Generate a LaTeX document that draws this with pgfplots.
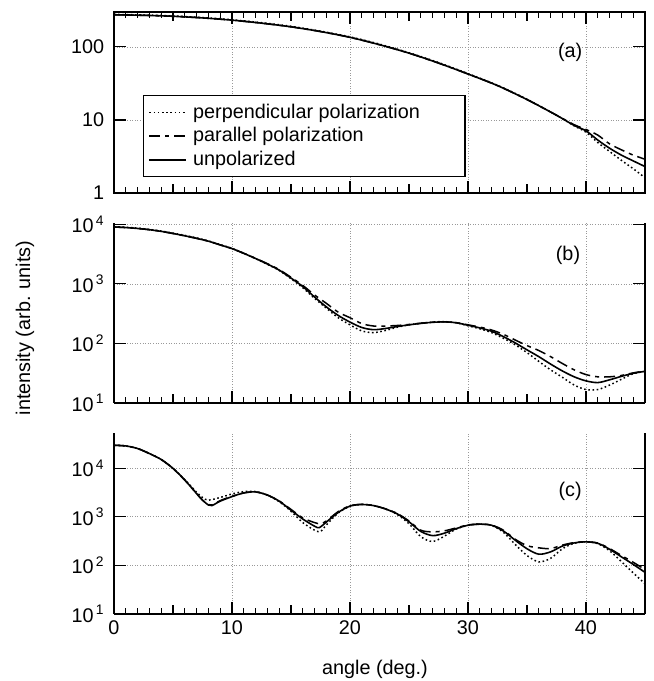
\documentclass[border=0pt]{standalone}
\usepackage{fontspec}
\setmainfont{Liberation Sans}
\usepackage{pgfplots}
\pgfplotsset{compat=1.18}
\tikzset{
  perpsty/.style={black, line width=1.5pt, dash pattern=on 1.6pt off 2.6pt},
  parasty/.style={black, line width=1.5pt, dash pattern=on 11pt off 5pt on 4pt off 5pt},
  unpolsty/.style={black, line width=1.6pt},
}
\pgfplotsset{
  mypanel/.style={
    scale only axis, width=531pt, xmin=0, xmax=45,
    xtick={0,10,20,30,40}, xticklabels={},
    minor xtick={0,1,...,45},
    extra x ticks={5,15,25,35,45}, extra x tick labels={},
    extra x tick style={major tick length=9pt, grid=none},
    yminorticks=false,
    grid=major, grid style={dash pattern=on 0.8pt off 1.8pt, black!40, line width=0.6pt},
    axis line style={line width=1.5pt},
    every tick/.style={black, line width=1.2pt},
    major tick length=12pt, minor tick length=6pt,
    tick align=inside,
    yticklabel style={xshift=-3pt},
  },
}
\begin{document}
\fontsize{19.8}{23}\selectfont
\begin{tikzpicture}[x=1pt,y=1pt]
\useasboundingbox (0,0) rectangle (654,681);

% ---------------- panel (a)
\begin{semilogyaxis}[mypanel, at={(114pt,488pt)}, anchor=south west, height=181pt,
  ymin=1, ymax=300, ytick={1,10,100}, yticklabels={1,10,100},
  legend style={at={(rel axis cs:0.0546,0.541)}, anchor=north west,
    draw=black, line width=1.2pt, fill=white, inner xsep=5pt, inner ysep=6pt,
    row sep=2.5pt},
  legend cell align=left,
  legend image code/.code={\draw[#1] (0pt,0pt) -- (37pt,0pt); \path (41pt,0pt);},
]
\addplot[perpsty, smooth] coordinates {(0,278) (2.5,273) (5,265) (7.5,252) (10,235) (12.5,214) (15,191) (17.5,164) (20,137) (22.5,109) (25,83) (27.5,61) (30,43) (32.5,29.8) (35,19.2) (37.5,11.6) (39,8.3) (40,6.8) (41,4.9) (42,3.7) (43,2.8) (44,2.15) (45,1.62)};
\addlegendentry{perpendicular polarization\hspace*{38pt}\mbox{}}
\addplot[parasty, smooth] coordinates {(0,275) (2.5,270) (5,262) (7.5,249) (10,232) (12.5,211) (15,188) (17.5,162) (20,135) (22.5,107) (25,82) (27.5,60) (30,42.5) (32.5,29.5) (35,19) (37.5,11.6) (39,8.6) (40,7.4) (41,6.2) (42,4.7) (43,3.9) (44,3.3) (45,2.9)};
\addlegendentry{parallel polarization}
\addplot[unpolsty, smooth] coordinates {(0,275) (2.5,270) (5,262) (7.5,249) (10,232) (12.5,211) (15,188) (17.5,162) (20,135) (22.5,107) (25,82) (27.5,60) (30,42.5) (32.5,29.5) (35,19) (37.5,11.6) (39,8.4) (40,7.1) (41,5.3) (42,4.1) (43,3.3) (44,2.75) (45,2.3)};
\addlegendentry{unpolarized}
\node at (rel axis cs:0.859,0.779) {(a)};
\end{semilogyaxis}

% ---------------- panel (b)
\begin{semilogyaxis}[mypanel, at={(114pt,278pt)}, anchor=south west, height=180pt,
  axis x line*=bottom, axis y line*=box,
  ymin=10, ymax=10500, ytick={10,100,1000,10000},
  yticklabels={{10\textsuperscript{\,1}},{10\textsuperscript{\,2}},{10\textsuperscript{\,3}},{10\textsuperscript{\,4}}},
]
\addplot[perpsty, smooth] coordinates {(0,9100) (1,8900) (2,8600) (3,8200) (4,7700) (5,7100) (6,6500) (7,5900) (8,5250) (9,4550) (10,3950) (11,3250) (12,2650) (13,2130) (14,1680) (15,1220) (16,860) (17,570) (18,390) (19,270) (20,205) (21,162) (22,152) (23,165) (24,187) (25,205) (26,218) (27,228) (28,232) (29,222) (30,198) (31,176) (32,152) (33,122) (34,95) (35,70) (36,50) (37,36) (38,27) (39,20) (40,16.8) (41,16.8) (42,20) (43,25) (44,31) (45,34)};
\addplot[parasty, smooth] coordinates {(0,9000) (1,8800) (2,8500) (3,8100) (4,7600) (5,7000) (6,6400) (7,5800) (8,5200) (9,4500) (10,3900) (11,3250) (12,2680) (13,2180) (14,1730) (15,1290) (16,940) (17,650) (18,470) (19,335) (20,270) (21,215) (22,196) (23,196) (24,200) (25,208) (26,218) (27,227) (28,230) (29,223) (30,205) (31,188) (32,168) (33,142) (34,114) (35,92) (36,76) (37,60) (38,46) (39,36) (40,30) (41,27.5) (42,27.5) (43,29) (44,32) (45,34.5)};
\addplot[unpolsty, smooth] coordinates {(0,9000) (1,8800) (2,8500) (3,8100) (4,7600) (5,7000) (6,6400) (7,5800) (8,5200) (9,4500) (10,3900) (11,3250) (12,2660) (13,2150) (14,1700) (15,1250) (16,900) (17,600) (18,410) (19,295) (20,228) (21,185) (22,170) (23,178) (24,192) (25,205) (26,217) (27,226) (28,230) (29,222) (30,202) (31,182) (32,160) (33,130) (34,102) (35,78) (36,60) (37,45) (38,34.5) (39,27.5) (40,23.5) (41,22) (42,24.5) (43,28) (44,31.5) (45,34)};
\node at (rel axis cs:0.855,0.822) {(b)};
\end{semilogyaxis}

% ---------------- panel (c)
\begin{semilogyaxis}[mypanel, at={(114pt,67pt)}, anchor=south west, height=181pt,
  axis x line*=bottom, axis y line*=box,
  ymin=10, ymax=53000, ytick={10,100,1000,10000},
  yticklabels={{10\textsuperscript{\,1}},{10\textsuperscript{\,2}},{10\textsuperscript{\,3}},{10\textsuperscript{\,4}}},
  xticklabels={0,10,20,30,40},
]
\addplot[perpsty, smooth] coordinates {(0,29600) (1,28700) (2,25400) (3,20000) (4,15100) (5,9900) (6,5800) (7,3200) (7.5,2500) (8,2200) (9,2500) (10,2950) (11,3300) (12,3300) (13,2800) (14,2050) (15,1300) (16,760) (17,530) (17.5,500) (18,680) (19,1200) (20,1650) (21,1800) (22,1700) (23,1450) (24,1120) (25,720) (26,390) (27,310) (28,400) (29,560) (30,670) (31,705) (32,665) (33,480) (34,270) (35,160) (36,118) (37,140) (38,220) (39,285) (40,305) (41,280) (42,200) (43,120) (44,70) (45,42)};
\addplot[parasty, smooth] coordinates {(0,29600) (1,28700) (2,25400) (3,20000) (4,15100) (5,9900) (6,5700) (7,3000) (7.5,2200) (8,1780) (8.3,1750) (9,2150) (10,2650) (11,3100) (12,3250) (13,2800) (14,2120) (15,1420) (16,950) (17,760) (17.5,720) (18,820) (19,1280) (20,1680) (21,1800) (22,1700) (23,1460) (24,1170) (25,820) (26,530) (27,490) (28,515) (29,590) (30,680) (31,705) (32,675) (33,530) (34,345) (35,255) (36,230) (37,222) (38,262) (39,295) (40,305) (41,288) (42,222) (43,160) (44,116) (45,82)};
\addplot[unpolsty, smooth] coordinates {(0,29600) (1,28700) (2,25400) (3,20000) (4,15100) (5,9900) (6,5700) (7,3000) (7.5,2200) (8,1750) (8.3,1700) (9,2100) (10,2600) (11,3100) (12,3250) (13,2800) (14,2100) (15,1370) (16,900) (17,640) (17.4,600) (18,780) (19,1230) (20,1660) (21,1790) (22,1700) (23,1450) (24,1150) (25,790) (26,500) (27,410) (28,460) (29,570) (30,670) (31,705) (32,670) (33,510) (34,330) (35,220) (36,170) (37,190) (38,250) (39,290) (40,305) (41,285) (42,215) (43,150) (44,105) (45,72)};
\node at (rel axis cs:0.859,0.68) {(c)};
\end{semilogyaxis}

\node[rotate=90] at (25,353) {intensity (arb. units)};
\node at (375,12) {angle (deg.)};
\end{tikzpicture}
\end{document}
